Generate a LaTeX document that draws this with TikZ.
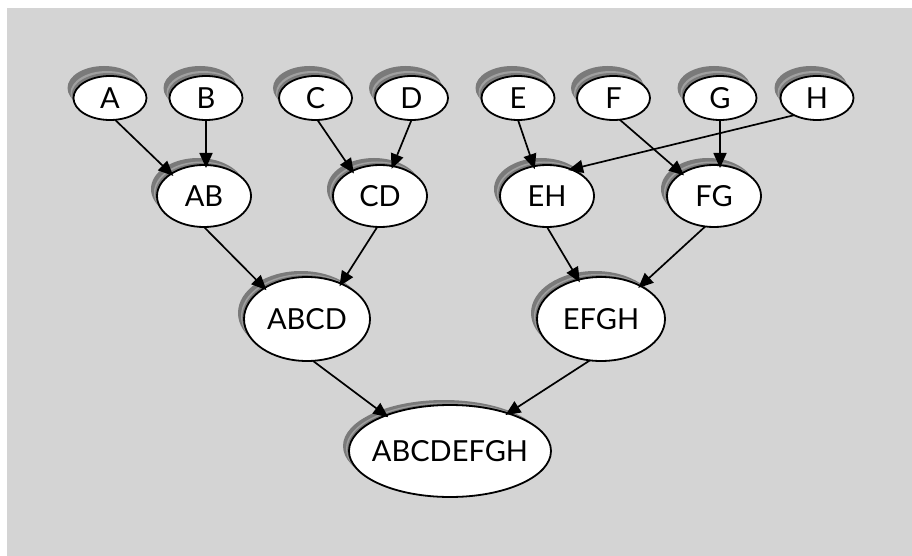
\documentclass[tikz,border=0pt]{standalone}
\usepackage{fontspec}
\setmainfont{Lato}
\usetikzlibrary{arrows.meta,shapes.geometric}
\definecolor{bggray}{HTML}{D4D4D4}
\definecolor{shdark}{HTML}{7A7A7A}
\definecolor{shlight}{HTML}{A0A0A0}
\tikzset{
  bub/.style={ellipse, draw=black, fill=white, line width=1.8pt, inner sep=0pt, outer sep=0pt,
    font=\fontsize{29}{32}\selectfont},
  arr/.style={line width=1.7pt, -{Triangle[length=15pt,width=13pt]}, shorten >=-3pt},
}
% #1 name, #2 x, #3 y, #4 rx, #5 ry, #6 shadow dx, #7 shadow dy, #8 text
\newcommand\bubble[8]{%
  \fill[shdark, shift={(#6,#7)}] (#2,#3) ellipse [x radius=#4, y radius=#5];
  \fill[shlight, shift={(0.5*#6,0.5*#7)}] (#2,#3) ellipse [x radius=#4, y radius=#5];
  \fill[shdark, shift={(0.3*#6,0.3*#7)}] (#2,#3) ellipse [x radius=#4, y radius=#5];
  \node[bub, minimum width={2*#4pt}, minimum height={2*#5pt}] (#1) at (#2,#3) {\makebox[0pt]{#8}};
}
\begin{document}
\begin{tikzpicture}[x=1pt,y=-1pt]
\useasboundingbox (0,0) rectangle (912,556);
\fill[bggray] (7,8) rectangle (912,556);
% top row
\bubble{A}{110}{98}{36.5}{22}{-6}{-10}{A}
\bubble{B}{206}{98}{36.5}{22}{-6}{-10}{B}
\bubble{C}{315.5}{98}{36.5}{22}{-6}{-10}{C}
\bubble{D}{411.5}{98}{36.5}{22}{-6}{-10}{D}
\bubble{E}{518}{98}{36.5}{22}{-6}{-10}{E}
\bubble{F}{613.5}{98}{36.5}{22}{-6}{-10}{F}
\bubble{G}{720}{98}{36.5}{22}{-6}{-10}{G}
\bubble{H}{817}{98}{36.5}{22}{-6}{-10}{H}
% second row
\bubble{AB}{204}{196}{47}{31}{-6}{-7}{AB}
\bubble{CD}{380}{196}{47}{31}{-6}{-7}{CD}
\bubble{EH}{547}{196}{47}{31}{-6}{-7}{EH}
\bubble{FG}{714}{196}{47}{31}{-6}{-7}{FG}
% third row
\bubble{ABCD}{307}{319}{63}{42}{-6}{-6}{ABCD}
\bubble{EFGH}{601}{319}{64}{42}{-6}{-6}{EFGH}
% bottom
\bubble{X}{450}{451}{101}{46}{-6}{-5}{ABCDEFGH}
% connectors
\draw[arr] (A.283) -- (AB.146);
\draw[arr] (B.south) -- (B.south |- AB.north);
\draw[arr] (C.275) -- (CD.138);
\draw[arr] (D.270) -- (CD.67);
\draw[arr] (E.270) -- (EH.114);
\draw[arr] (H.217) -- (EH.48);
\draw[arr] (F.286) -- (FG.145);
\draw[arr] (G.south) -- (G.south |- FG.north);
\draw[arr] (AB.south) -- (ABCD.144);
\draw[arr] (CD.265) -- (ABCD.46);
\draw[arr] (EH.south) -- (EFGH.120);
\draw[arr] (FG.254) -- (EFGH.40);
\draw[arr] (ABCD.278) -- (X.151);
\draw[arr] (EFGH.255) -- (X.33);
\end{tikzpicture}
\end{document}
